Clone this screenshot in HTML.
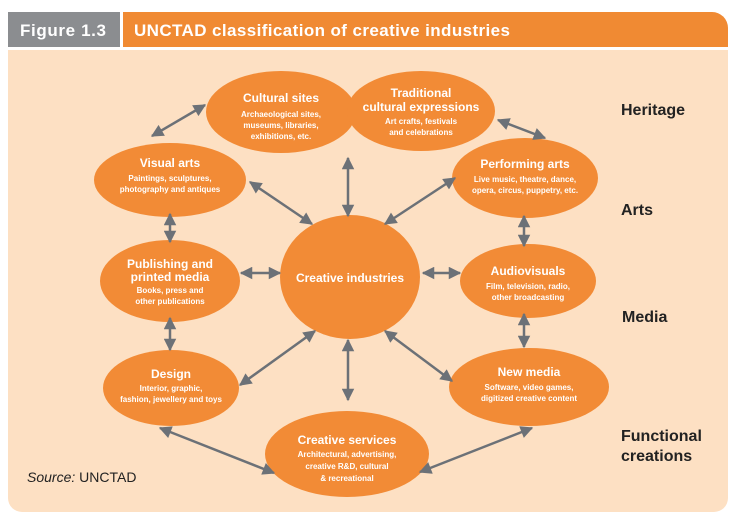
<!DOCTYPE html>
<html><head><meta charset="utf-8"><style>
body{margin:0;background:#fff;width:736px;height:521px;overflow:hidden;font-family:"Liberation Sans",sans-serif}
</style></head><body>
<svg width="736" height="521" viewBox="0 0 736 521" xmlns="http://www.w3.org/2000/svg" font-family="Liberation Sans, sans-serif">
<defs>
<marker id="a" viewBox="0 0 10 10" refX="9" refY="5" markerWidth="5.5" markerHeight="5" orient="auto-start-reverse" markerUnits="strokeWidth"><path d="M0,0L10,5L0,10z" fill="#6c7177"/></marker>
</defs>
<rect x="8" y="12" width="112" height="35" fill="#8b8d90"/>
<path d="M123,12H712a16,16 0 0 1 16,16V47H123z" fill="#f08a33"/>
<text x="20" y="36" font-size="17" font-weight="bold" fill="#fff" textLength="86">Figure 1.3</text>
<text x="134" y="36" font-size="17" font-weight="bold" fill="#fff" textLength="376">UNCTAD classification of creative industries</text>
<path d="M8,50H728V498a14,14 0 0 1 -14,14H22a14,14 0 0 1 -14,-14z" fill="#fde0c3"/>
<g fill="#f28b36">
<ellipse cx="281" cy="112" rx="75" ry="41"/>
<ellipse cx="421" cy="111" rx="74" ry="40"/>
<ellipse cx="170" cy="180" rx="76" ry="37"/>
<ellipse cx="525" cy="178" rx="73" ry="40"/>
<ellipse cx="350" cy="277" rx="70" ry="62"/>
<ellipse cx="170" cy="281" rx="70" ry="41"/>
<ellipse cx="528" cy="281" rx="68" ry="37"/>
<ellipse cx="171" cy="388" rx="68" ry="38"/>
<ellipse cx="529" cy="387" rx="80" ry="39"/>
<ellipse cx="347" cy="454" rx="82" ry="43"/>
</g>
<g stroke="#6c7177" stroke-width="2.5" fill="none" marker-start="url(#a)" marker-end="url(#a)">
<line x1="152" y1="136" x2="205" y2="105"/>
<line x1="498" y1="120" x2="545" y2="138"/>
<line x1="250" y1="182" x2="312" y2="224"/>
<line x1="348" y1="158" x2="348" y2="216"/>
<line x1="455" y1="178" x2="385" y2="224"/>
<line x1="170" y1="214" x2="170" y2="242"/>
<line x1="524" y1="216" x2="524" y2="246"/>
<line x1="241" y1="273" x2="280" y2="273"/>
<line x1="423" y1="273" x2="460" y2="273"/>
<line x1="170" y1="318" x2="170" y2="350"/>
<line x1="524" y1="314" x2="524" y2="347"/>
<line x1="315" y1="331" x2="240" y2="385"/>
<line x1="348" y1="340" x2="348" y2="400"/>
<line x1="385" y1="331" x2="452" y2="381"/>
<line x1="160" y1="428" x2="274" y2="473"/>
<line x1="532" y1="428" x2="420" y2="472"/>
</g>
<g fill="#fff" font-weight="bold" text-anchor="middle">
<text x="281" y="102" font-size="12">Cultural sites</text>
<text x="281" y="117" font-size="8">Archaeological sites,</text>
<text x="281" y="128" font-size="8">museums, libraries,</text>
<text x="281" y="139" font-size="8">exhibitions, etc.</text>
<text x="421" y="97" font-size="12">Traditional</text>
<text x="421" y="111" font-size="12">cultural expressions</text>
<text x="421" y="124" font-size="8">Art crafts, festivals</text>
<text x="421" y="135" font-size="8">and celebrations</text>
<text x="170" y="167" font-size="12">Visual arts</text>
<text x="170" y="181" font-size="8">Paintings, sculptures,</text>
<text x="170" y="192" font-size="8">photography and antiques</text>
<text x="525" y="168" font-size="12">Performing arts</text>
<text x="525" y="182" font-size="8">Live music, theatre, dance,</text>
<text x="525" y="193" font-size="8">opera, circus, puppetry, etc.</text>
<text x="350" y="282" font-size="12">Creative industries</text>
<text x="170" y="268" font-size="12">Publishing and</text>
<text x="170" y="281" font-size="12">printed media</text>
<text x="170" y="293" font-size="8">Books, press and</text>
<text x="170" y="304" font-size="8">other publications</text>
<text x="528" y="275" font-size="12">Audiovisuals</text>
<text x="528" y="289" font-size="8">Film, television, radio,</text>
<text x="528" y="300" font-size="8">other broadcasting</text>
<text x="171" y="378" font-size="12">Design</text>
<text x="171" y="391" font-size="8">Interior, graphic,</text>
<text x="171" y="402" font-size="8">fashion, jewellery and toys</text>
<text x="529" y="376" font-size="12">New media</text>
<text x="529" y="390" font-size="8">Software, video games,</text>
<text x="529" y="401" font-size="8">digitized creative content</text>
<text x="347" y="444" font-size="12">Creative services</text>
<text x="347" y="457" font-size="8">Architectural, advertising,</text>
<text x="347" y="469" font-size="8">creative R&amp;D, cultural</text>
<text x="347" y="481" font-size="8">&amp; recreational</text>
</g>
<g fill="#222" font-weight="bold" font-size="16">
<text x="621" y="115">Heritage</text>
<text x="621" y="215">Arts</text>
<text x="622" y="322">Media</text>
<text x="621" y="441">Functional</text>
<text x="621" y="461">creations</text>
</g>
<text x="27" y="482" font-size="14" fill="#222"><tspan font-style="italic">Source:</tspan>  UNCTAD</text>
</svg>
</body></html>
